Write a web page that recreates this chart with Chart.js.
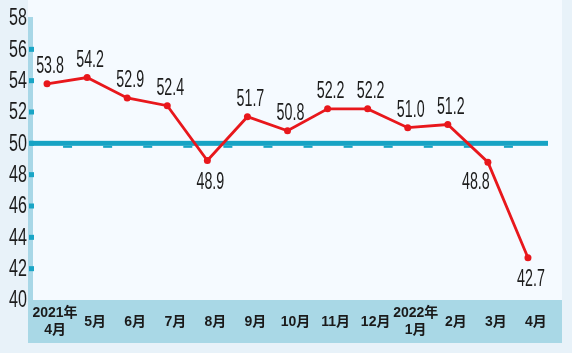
<!DOCTYPE html>
<html>
<head>
<meta charset="utf-8">
<script src="https://cdn.jsdelivr.net/npm/chart.js@4"></script>
<style>
  html, body { margin: 0; padding: 0; background: #e8f2f9; }
  #wrap { width: 572px; height: 353px; position: relative; }
</style>
</head>
<body>
<div id="wrap"><canvas id="pmiChart"></canvas></div>
<script>
// ===== DATA =====
const months = [['2021年', '4月'], '5月', '6月', '7月', '8月', '9月', '10月', '11月', '12月', ['2022年', '1月'], '2月', '3月', '4月'];
const pmiValues = [53.8, 54.2, 52.9, 52.4, 48.9, 51.7, 50.8, 52.2, 52.2, 51.0, 51.2, 48.8, 42.7];
const yTicks = [40, 42, 44, 46, 48, 50, 52, 54, 56, 58];
const thresholdValue = 50;
// where each value label sits relative to its point
const labelPlace = ['up', 'up', 'up', 'up', 'down', 'up', 'up', 'up', 'up', 'up', 'up', 'downLeft', 'down'];

const NUM_FONT = "23px 'Liberation Sans', Arial, sans-serif";

// draw condensed text (the picture uses a narrow face)
function narrowText(ctx, text, x, y, sx, align) {
  ctx.save();
  ctx.translate(x, y);
  ctx.scale(sx, 1);
  ctx.textAlign = align;
  ctx.textBaseline = 'middle';
  ctx.fillText(text, 0, 0);
  ctx.restore();
}

// ===== BACKGROUND, AXIS BAR, 50 LINE, LABELS =====
const decor = {
  id: 'decor',
  beforeDraw(chart) {
    const { ctx, chartArea: a, scales: { y } } = chart;
    const edge = a.right + 14;
    ctx.save();
    ctx.fillStyle = '#e8f2f9';
    ctx.fillRect(0, 0, chart.width, chart.height);
    ctx.fillStyle = '#f5faff';
    ctx.fillRect(a.left + 1, 0, edge - a.left - 1, a.bottom);
    ctx.fillStyle = '#a9d8e6';
    ctx.fillRect(a.left + 1, a.bottom, edge - a.left - 1, 43);

    // left axis bar
    ctx.fillStyle = '#a8d7e7';
    ctx.fillRect(a.left + 1, a.top - 1, 5, a.bottom - a.top + 1);

    // tick squares + labels
    ctx.font = NUM_FONT;
    y.ticks.forEach(t => {
      const py = y.getPixelForValue(t.value);
      if (t.value > y.min && t.value < y.max) {
        ctx.fillStyle = '#1aa5c6';
        ctx.fillRect(a.left + 2, py - 2.5, 5, 5);
      }
      ctx.fillStyle = '#1c1c1c';
      narrowText(ctx, t.label, a.left, py + 1, 0.7, 'right');
    });
    ctx.restore();
  },
  beforeDatasetsDraw(chart) {
    const { ctx, chartArea: a, scales: { x, y } } = chart;
    const py = y.getPixelForValue(thresholdValue);
    ctx.save();
    ctx.fillStyle = '#17a3c4';
    ctx.fillRect(a.left + 3, py - 2.5, a.right - a.left - 3, 5);
    for (let k = 1; k < months.length; k++) {
      const bx = (x.getPixelForValue(k - 1) + x.getPixelForValue(k)) / 2;
      ctx.fillRect(bx - 4, py + 2.5, 9, 2);
    }
    ctx.restore();
  },
  afterDatasetsDraw(chart) {
    const { ctx } = chart;
    const meta = chart.getDatasetMeta(0);
    ctx.save();
    ctx.font = NUM_FONT;
    ctx.fillStyle = '#1c1c1c';
    meta.data.forEach((pt, i) => {
      const place = labelPlace[i];
      let lx = pt.x + 3, ly = pt.y - 17;
      if (place === 'down') ly = pt.y + 22;
      if (place === 'downLeft') { lx = pt.x - 12; ly = pt.y + 21; }
      narrowText(ctx, pmiValues[i].toFixed(1), lx, ly, 0.62, 'center');
    });
    ctx.restore();
  }
};

// ===== CHART =====
const ctx = document.getElementById('pmiChart').getContext('2d');
new Chart(ctx, {
  type: 'line',
  data: {
    labels: months,
    datasets: [{
      data: pmiValues,
      borderColor: '#e8171c',
      backgroundColor: '#e8171c',
      borderWidth: 2.8,
      pointRadius: 3.5,
      pointBorderWidth: 0,
      pointBackgroundColor: '#e8171c',
      tension: 0
    }]
  },
  options: {
    responsive: true,
    maintainAspectRatio: false,
    animation: false,
    layout: { padding: { top: 18, right: 24, bottom: 10, left: 0 } },
    plugins: {
      legend: { display: false },
      tooltip: { enabled: false }
    },
    scales: {
      x: {
        offset: true,
        grid: { display: false },
        border: { display: false },
        ticks: {
          color: '#1a1a1a',
          font: { family: "'Liberation Sans', 'Noto Sans CJK SC', sans-serif", size: 14, weight: 'bold', lineHeight: 1.25 },
          labelOffset: 8,
          padding: 5,
          crossAlign: 'center',
          maxRotation: 0,
          autoSkip: false
        },
        afterFit: s => { s.height = 43; }
      },
      y: {
        min: yTicks[0],
        max: yTicks[yTicks.length - 1],
        grid: { display: false },
        border: { display: false },
        ticks: { display: false, stepSize: 2 },
        afterFit: s => { s.width = 27; }
      }
    }
  },
  plugins: [decor]
});
</script>
</body>
</html>
